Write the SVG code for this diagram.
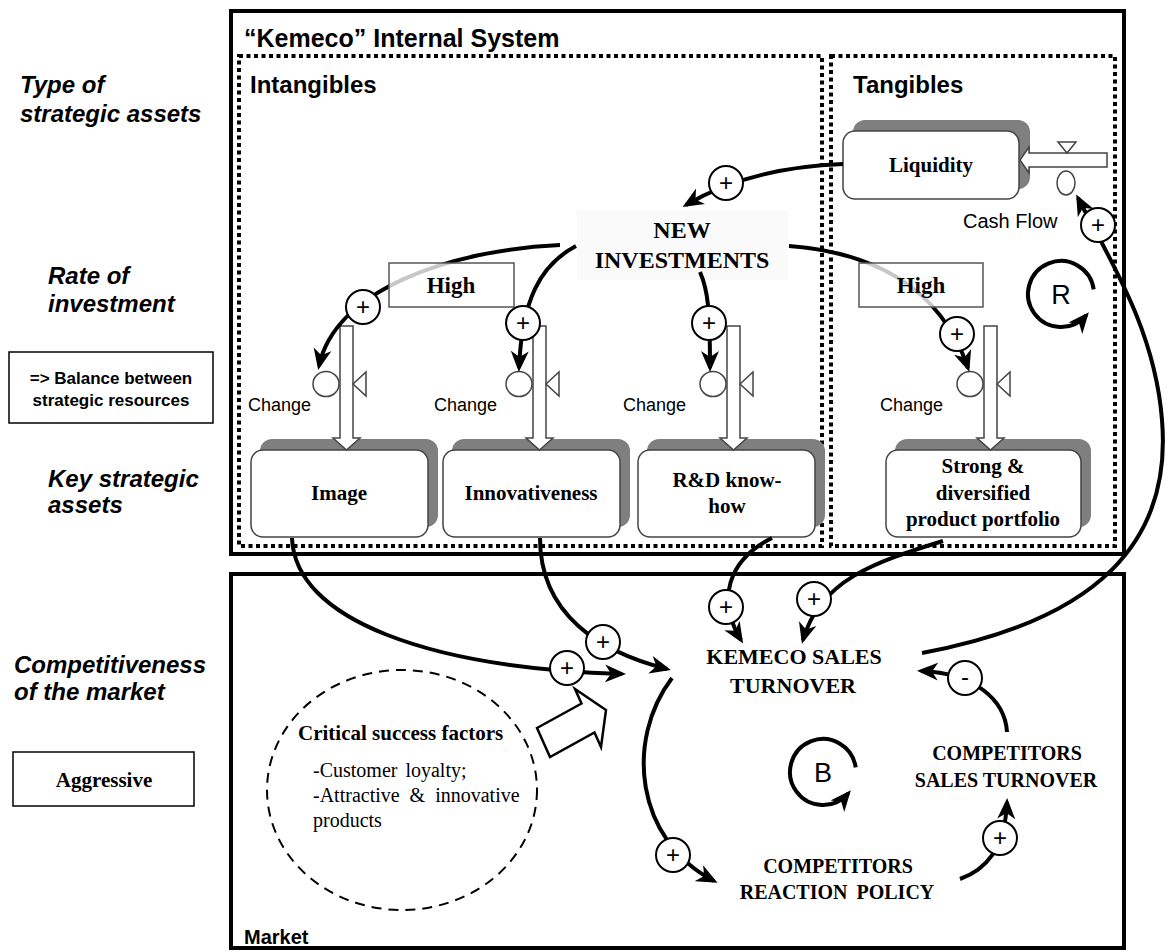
<svg xmlns="http://www.w3.org/2000/svg" width="1172" height="952" viewBox="0 0 1172 952">
<style>
.sans{font-family:"Liberation Sans",Arial,sans-serif}
.lbl{font-family:"Liberation Sans",Arial,sans-serif;font-weight:bold;font-style:italic;font-size:24px}
.serb{font-family:"Liberation Serif","Times New Roman",serif;font-weight:bold}
.ser{font-family:"Liberation Serif","Times New Roman",serif}
.frame{fill:none;stroke:#000;stroke-width:4}
.dot{fill:none;stroke:#000;stroke-width:4;stroke-dasharray:4 3.5}
.shadow{fill:#7f7f7f}
.stock{fill:#fff;stroke:#444;stroke-width:1.5}
.pipe{fill:#fff;stroke:#444;stroke-width:1.5}
.valve{fill:#fff;stroke:#444;stroke-width:1.5}
.conn{fill:none;stroke:#000;stroke-width:4;marker-end:url(#ah)}
.pol circle{fill:#fff;stroke:#000;stroke-width:2}
.pol text{font-family:"Liberation Sans",Arial,sans-serif;font-size:24px;text-anchor:middle}
.high{fill:#fff;fill-opacity:0.78;stroke:#555;stroke-width:1.5}
.mid{text-anchor:middle}
</style>
<defs>
<marker id="ah" markerUnits="userSpaceOnUse" viewBox="0 0 22 20" markerWidth="22" markerHeight="20" refX="17" refY="10" orient="auto">
<path d="M0,1 L21,10 L0,19 L6,10 z" fill="#000"/>
</marker>
</defs>
<rect width="1172" height="952" fill="#fff"/>

<!-- frames -->
<g id="internal-system">
<rect class="frame" x="231" y="11" width="893" height="543"/>
<text class="sans" x="244" y="47" font-size="25" font-weight="bold">“Kemeco” Internal System</text>
</g>
<g id="intangibles">
<rect class="dot" x="239" y="56" width="583" height="490"/>
<text class="sans" x="250" y="93" font-size="24" font-weight="bold">Intangibles</text>
</g>
<g id="tangibles">
<rect class="dot" x="831" y="56" width="284" height="490"/>
<text class="sans" x="853" y="93" font-size="24" font-weight="bold">Tangibles</text>
</g>
<g id="market">
<rect class="frame" x="231" y="574" width="893" height="374"/>
<text class="sans" x="244" y="944" font-size="20" font-weight="bold">Market</text>
</g>

<!-- left labels -->
<g id="left-labels">
<text class="lbl" x="20" y="93">Type of</text>
<text class="lbl" x="20" y="122">strategic assets</text>
<text class="lbl" x="48" y="284">Rate of</text>
<text class="lbl" x="48" y="312">investment</text>
<text class="lbl" x="48" y="487">Key strategic</text>
<text class="lbl" x="48" y="513">assets</text>
<text class="lbl" x="14" y="673">Competitiveness</text>
<text class="lbl" x="14" y="700">of the market</text>
</g>
<g id="balance">
<rect x="9" y="352" width="204" height="71" fill="#fff" stroke="#000" stroke-width="1.5"/>
<text class="sans mid" x="111" y="384" font-size="17" font-weight="bold">=&gt; Balance between</text>
<text class="sans mid" x="111" y="406" font-size="17" font-weight="bold">strategic resources</text>
</g>
<g id="aggressive">
<rect x="13" y="752" width="181" height="54" fill="#fff" stroke="#000" stroke-width="1.5"/>
<text class="serb mid" x="104" y="787" font-size="21">Aggressive</text>
</g>

<!-- stocks -->
<g id="liquidity">
<rect class="shadow" x="853" y="120" width="177" height="69" rx="12"/>
<rect class="stock" x="843" y="131" width="176" height="68" rx="12"/>
<text class="serb mid" x="931" y="172" font-size="21">Liquidity</text>
</g>
<g id="cash-flow">
<polygon class="pipe" points="1107,153 1029,153 1029,147 1020,160 1029,173 1029,167 1107,167"/>
<polygon class="valve" points="1058,142 1076,142 1067,153"/>
<ellipse class="valve" cx="1066" cy="183" rx="9" ry="12"/>
<text class="sans" x="963" y="228" font-size="20">Cash Flow</text>
</g>
<g id="image">
<rect class="shadow" x="260" y="439" width="178" height="88" rx="12"/>
<rect class="stock" x="251" y="450" width="177" height="87" rx="12"/>
<text class="serb mid" x="339" y="500" font-size="21">Image</text>
</g>
<g id="innovativeness">
<rect class="shadow" x="452" y="439" width="178" height="88" rx="12"/>
<rect class="stock" x="443" y="450" width="177" height="87" rx="12"/>
<text class="serb mid" x="531" y="500" font-size="21">Innovativeness</text>
</g>
<g id="rd-knowhow">
<rect class="shadow" x="647" y="439" width="178" height="88" rx="12"/>
<rect class="stock" x="638" y="450" width="177" height="87" rx="12"/>
<text class="serb mid" x="727" y="487" font-size="21">R&amp;D know-</text>
<text class="serb mid" x="727" y="513" font-size="21">how</text>
</g>
<g id="portfolio">
<rect class="shadow" x="895" y="439" width="196" height="88" rx="12"/>
<rect class="stock" x="886" y="450" width="195" height="87" rx="12"/>
<text class="serb mid" x="983" y="473" font-size="21">Strong &amp;</text>
<text class="serb mid" x="983" y="500" font-size="21">diversified</text>
<text class="serb mid" x="983" y="526" font-size="21">product portfolio</text>
</g>

<!-- flows -->
<g id="change-image">
<polygon class="pipe" points="340,326 353,326 353,438 360,438 346.5,450 333,438 340,438"/>
<ellipse class="valve" cx="326" cy="384" rx="13" ry="12.5"/>
<polygon class="valve" points="353,384 366,372 366,396"/>
<text class="sans" x="248" y="411" font-size="18">Change</text>
</g>
<g id="change-innov">
<polygon class="pipe" points="533,326 546,326 546,438 553,438 539.5,450 526,438 533,438"/>
<ellipse class="valve" cx="519" cy="384" rx="13" ry="12.5"/>
<polygon class="valve" points="546,384 559,372 559,396"/>
<text class="sans" x="434" y="411" font-size="18">Change</text>
</g>
<g id="change-rd">
<polygon class="pipe" points="727,326 740,326 740,438 747,438 733.5,450 720,438 727,438"/>
<ellipse class="valve" cx="713" cy="384" rx="13" ry="12.5"/>
<polygon class="valve" points="740,384 753,372 753,396"/>
<text class="sans" x="623" y="411" font-size="18">Change</text>
</g>
<g id="change-portfolio">
<polygon class="pipe" points="984,326 997,326 997,438 1004,438 990.5,450 977,438 984,438"/>
<ellipse class="valve" cx="970" cy="384" rx="13" ry="12.5"/>
<polygon class="valve" points="997,384 1010,372 1010,396"/>
<text class="sans" x="880" y="411" font-size="18">Change</text>
</g>

<!-- auxiliaries -->
<g id="new-investments">
<rect x="577" y="210" width="211" height="70" fill="#fafafa"/>
<text class="serb mid" x="682" y="238" font-size="24">NEW</text>
<text class="serb mid" x="682" y="268" font-size="24">INVESTMENTS</text>
</g>
<g id="kemeco-sales">
<text class="serb mid" x="794" y="664" font-size="22">KEMECO SALES</text>
<text class="serb mid" x="793" y="693" font-size="22">TURNOVER</text>
</g>
<g id="competitors-sales">
<text class="serb mid" x="1007" y="760" font-size="20">COMPETITORS</text>
<text class="serb mid" x="1006" y="787" font-size="20">SALES TURNOVER</text>
</g>
<g id="competitors-reaction">
<text class="serb mid" x="838" y="873" font-size="20">COMPETITORS</text>
<text class="serb mid" x="837" y="899" font-size="20" word-spacing="4">REACTION POLICY</text>
</g>
<g id="csf">
<ellipse cx="402" cy="790" rx="135" ry="120" fill="none" stroke="#000" stroke-width="2" stroke-dasharray="10 7"/>
<text class="serb" x="298" y="740" font-size="21">Critical success factors</text>
<text class="ser" x="313" y="777" font-size="20" word-spacing="3">-Customer loyalty;</text>
<text class="ser" x="313" y="802" font-size="20" word-spacing="5">-Attractive &amp; innovative</text>
<text class="ser" x="313" y="827" font-size="20">products</text>
<polygon points="537,728 581.5,703.5 575,689 606,710 601,747 594.5,732.5 550,757" fill="#fff" stroke="#000" stroke-width="2.5" stroke-linejoin="miter"/>
</g>

<!-- connectors -->
<g id="connectors">
<path class="conn" d="M843,164 C790,166 735,176 686,205"/>
<path class="conn" d="M560,245 C450,250 335,290 319,366"/>
<path class="conn" d="M576,246 C540,265 522,300 519,368"/>
<path class="conn" d="M700,272 C708,290 710,310 710,368"/>
<path class="conn" d="M789,246 C870,252 940,285 968,368"/>
<path class="conn" d="M292,538 C295,620 430,668 622,674"/>
<path class="conn" d="M540,538 C540,615 600,652 667,669"/>
<path class="conn" d="M772,538 C728,560 716,600 741,640"/>
<path class="conn" d="M943,541 C875,562 820,580 803,640"/>
<path class="conn" d="M922,653 C1100,620 1172,540 1162,420 C1155,330 1110,260 1078,198"/>
<path class="conn" d="M1007,732 C1005,700 975,673 921,671"/>
<path class="conn" d="M672,678 C625,740 635,840 714,881"/>
<path class="conn" d="M960,879 C985,870 1005,850 1007,802"/>
<path class="conn" d="M1093.7,289.4 A33,33 0 1 0 1086.3,315.2"/>
<path class="conn" d="M855.7,767.4 A33,33 0 1 0 848.3,793.2"/>
</g>
<g id="loop-labels">
<text class="sans mid" x="1061" y="304" font-size="27">R</text>
<text class="sans mid" x="823" y="782" font-size="27">B</text>
</g>
<g id="high-left">
<rect class="high" x="389" y="263" width="125" height="44"/>
<text class="serb mid" x="451" y="293" font-size="23">High</text>
</g>
<g id="high-right">
<rect class="high" x="859" y="263" width="124" height="44"/>
<text class="serb mid" x="921" y="293" font-size="23">High</text>
</g>
<g id="polarities" class="pol">
<circle cx="726" cy="183" r="17"/><text x="726" y="191">+</text>
<circle cx="1098" cy="225" r="17"/><text x="1098" y="233">+</text>
<circle cx="363" cy="307" r="17"/><text x="363" y="315">+</text>
<circle cx="523" cy="323" r="17"/><text x="523" y="331">+</text>
<circle cx="709" cy="323" r="17"/><text x="709" y="331">+</text>
<circle cx="957" cy="334" r="17"/><text x="957" y="342">+</text>
<circle cx="603" cy="642" r="17"/><text x="603" y="650">+</text>
<circle cx="567" cy="668" r="17"/><text x="567" y="676">+</text>
<circle cx="726" cy="607" r="17"/><text x="726" y="615">+</text>
<circle cx="814" cy="599" r="17"/><text x="814" y="607">+</text>
<circle cx="965" cy="678" r="17"/><text x="965" y="685">-</text>
<circle cx="673" cy="855" r="17"/><text x="673" y="863">+</text>
<circle cx="1000" cy="838" r="17"/><text x="1000" y="846">+</text>
</g>
</svg>
